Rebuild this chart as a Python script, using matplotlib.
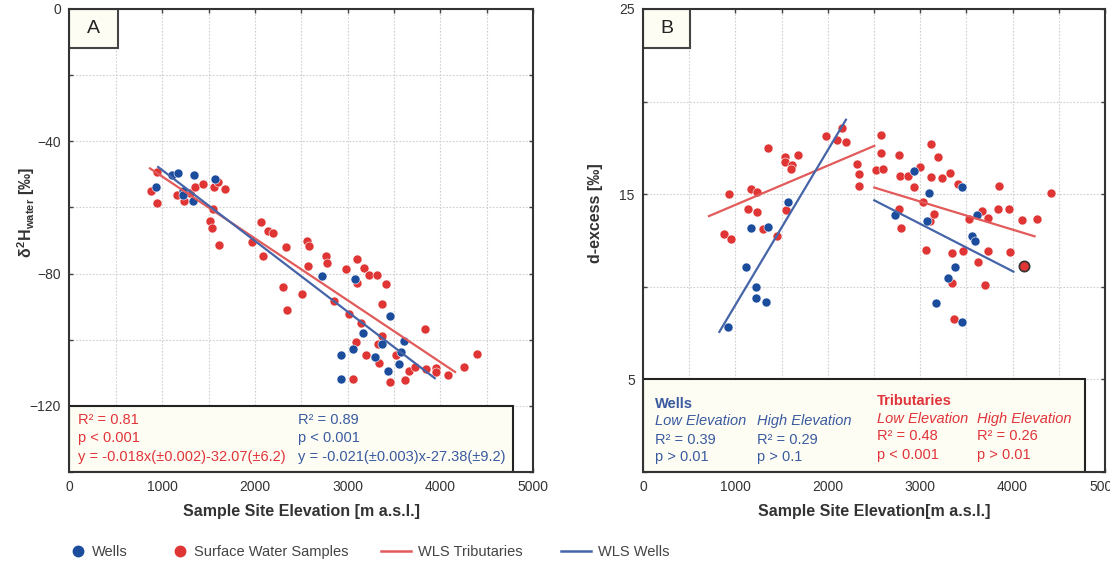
import matplotlib
matplotlib.use('Agg')
import matplotlib.pyplot as plt
import matplotlib.ticker as ticker
from matplotlib.patches import Rectangle
from matplotlib.lines import Line2D
import numpy as np

plt.rcParams['font.family'] = ['Liberation Sans', 'DejaVu Sans']
plt.rcParams['mathtext.fontset'] = 'custom'
plt.rcParams['mathtext.rm'] = 'Liberation Sans:bold'
plt.rcParams['mathtext.it'] = 'Liberation Sans:bold'
plt.rcParams['mathtext.bf'] = 'Liberation Sans:bold'

# panel A: d2H vs elevation
a_wells_x = [929, 1108, 1166, 1227, 1227, 1328, 1346, 1565, 2724, 3084, 3455, 2927, 2927,
             3060, 3161, 3293, 3376, 3437, 3606, 3581, 3552]
a_wells_y = [-53.8, -50.1, -49.6, -55.0, -56.2, -57.9, -50.1, -51.4, -80.6, -81.6, -92.8, -104.5,
             -111.9, -102.8, -97.9, -105.3, -101.2, -109.4, -100.4, -103.8, -107.4]
a_surf_x = [875, 946, 940, 1162, 1234, 1299, 1353, 1442, 1561, 1604, 1676, 1543, 1514, 1532, 1611,
            1974, 2064, 2136, 2196, 2082, 2340, 2566, 2584, 2570, 2771, 2782, 2988, 3106, 3174, 3232,
            3322, 2298, 2341, 2513, 2854, 3106, 3411, 3371, 3016, 3142, 3095, 3195, 3339, 3329, 3366,
            3060, 3455, 3527, 3617, 3664, 3725, 3843, 3832, 3958, 3950, 4083, 4255, 4396]
a_surf_y = [-54.9, -49.3, -58.7, -56.2, -58.0, -55.5, -53.8, -52.8, -53.9, -52.3, -54.3, -60.5, -64.0,
            -66.2, -71.4, -70.3, -64.4, -67.2, -67.7, -74.6, -72.0, -70.0, -71.6, -77.6, -74.6, -76.7,
            -78.7, -75.5, -78.3, -80.3, -80.3, -84.0, -91.1, -86.2, -88.2, -82.9, -83.0, -89.3, -92.3,
            -94.9, -100.7, -104.7, -107.1, -101.2, -98.9, -111.8, -112.9, -104.7, -112.2, -109.4,
            -108.1, -108.8, -96.6, -108.4, -109.6, -110.6, -108.1, -104.3]
# WLS fits: slope, intercept, x range
a_fit_trib = (-0.0187, -31.95, 868, 4159)
a_fit_wells = (-0.0214, -27.3, 957, 3940)

# panel B: d-excess vs elevation
b_wells_x = [1573, 1169, 1349, 1111, 2933, 3099, 3455, 3610, 2730, 3070, 3556, 3592, 3376, 3304,
             1223, 1223, 1331, 923, 3170, 3448]
b_wells_y = [14.6, 13.15, 13.24, 11.05, 16.25, 15.04, 15.4, 13.9, 13.86, 13.55, 12.77, 12.46, 11.05,
             10.5, 10.0, 9.42, 9.2, 7.83, 9.12, 8.11]
b_surf_x = [934, 880, 952, 1169, 1230, 1133, 1237, 1356, 1302, 1447, 1537, 1537, 1609, 1602, 1681,
            1544, 1980, 2096, 2150, 2197, 2312, 2341, 2341, 2518, 2575, 2575, 2594, 2770, 2781, 2865,
            2933, 2998, 3034, 3113, 3189, 3117, 3239, 3322, 3412, 2770, 2792, 3106, 3149, 3062, 3347,
            3459, 3531, 3629, 3672, 3730, 3737, 3853, 3845, 3964, 3971, 4098, 4267, 4415, 3347, 3368,
            3701]
b_surf_y = [15.0, 12.85, 12.57, 15.26, 15.13, 14.2, 14.04, 17.48, 13.13, 12.77, 17.03, 16.72, 16.58,
            16.34, 17.12, 14.17, 18.15, 17.93, 18.57, 17.84, 16.63, 16.09, 15.47, 16.3, 18.2, 17.2,
            16.38, 17.1, 16.0, 16.0, 15.4, 16.48, 14.57, 17.7, 16.99, 15.94, 15.89, 16.16, 15.54,
            14.22, 13.17, 13.55, 13.95, 11.99, 11.81, 11.96, 13.68, 11.33, 14.1, 13.74, 11.92, 15.45,
            14.18, 14.18, 11.86, 13.62, 13.68, 15.04, 10.23, 8.28, 10.09]
b_outlier = (4123, 11.13)
b_fit_trib_low = (0.002119, 12.307, 714, 2503)
b_fit_wells_low = (0.008358, 0.666, 826, 2196)
b_fit_trib_high = (-0.001517, 19.157, 2503, 4237)
b_fit_wells_high = (-0.002556, 21.068, 2503, 4009)

RED = '#e03535'
BLUE = '#1c4c9c'
RED_LINE = '#e25a5a'
BLUE_LINE = '#4565a8'
CREAM = '#fdfdf3'
TXT_RED = '#e0343a'
TXT_BLUE = '#3a5aa0'

fig = plt.figure(figsize=(11.1, 5.62), dpi=100)
axA = fig.add_axes([0.0626, 0.160, 0.4176, 0.824])
axB = fig.add_axes([0.5793, 0.160, 0.4162, 0.824])


def draw_fit(ax, fit, color):
    m, b, x0, x1 = fit
    xs = np.array([x0, x1])
    ax.plot(xs, m * xs + b, color=color, lw=1.6, zorder=4)


def style_axes(ax, ymin, ymax, ystep, ylabel_ok):
    ax.set_xlim(0, 5000)
    ax.set_ylim(ymin, ymax)
    ax.xaxis.set_major_locator(ticker.MultipleLocator(500))
    ax.yaxis.set_major_locator(ticker.MultipleLocator(ystep))
    ax.xaxis.set_major_formatter(ticker.FuncFormatter(
        lambda v, p: '{:.0f}'.format(v) if round(v) % 1000 == 0 else ''))
    ax.yaxis.set_major_formatter(ticker.FuncFormatter(
        lambda v, p: '{:.0f}'.format(v).replace('-', '\u2212') if ylabel_ok(v) else ''))
    ax.grid(True, ls=(0, (1.5, 1.5)), color='#cfcfcf', lw=0.8, zorder=0)
    ax.tick_params(direction='in', top=True, right=True, length=3, width=1,
                   color='#444444', labelcolor='#333333', labelsize=10, pad=6)
    for s in ax.spines.values():
        s.set_color('#333333')
        s.set_linewidth(1.5)
        s.set_zorder(6)


# ---- panel A ----
axA.scatter(a_surf_x, a_surf_y, s=42, c=RED, edgecolors='white', linewidths=0.4, zorder=3)
axA.scatter(a_wells_x, a_wells_y, s=42, c=BLUE, edgecolors='white', linewidths=0.4, zorder=3)
draw_fit(axA, a_fit_trib, RED_LINE)
draw_fit(axA, a_fit_wells, BLUE_LINE)
style_axes(axA, -140, 0, 20, lambda v: round(v) % 40 == 0 and v >= -120)
axA.add_patch(Rectangle((0, -140), 4780, 20, facecolor=CREAM, edgecolor='#222222', lw=1.5, zorder=5))
axA.add_patch(Rectangle((0, -11.9), 520, 11.9, facecolor=CREAM, edgecolor='#444444', lw=1.5, zorder=5))
axA.text(260, -6.0, 'A', fontsize=14, ha='center', va='center', color='#222222', zorder=6)
for i, t in enumerate(['R\u00b2 = 0.81', 'p < 0.001', 'y = -0.018x(\u00b10.002)-32.07(\u00b16.2)']):
    axA.text(90, -122.0 - i * 5.7, t, fontsize=10.5, color=TXT_RED, va='top', zorder=6)
for i, t in enumerate(['R\u00b2 = 0.89', 'p < 0.001', 'y = -0.021(\u00b10.003)x-27.38(\u00b19.2)']):
    axA.text(2460, -122.0 - i * 5.7, t, fontsize=10.5, color=TXT_BLUE, va='top', zorder=6)
axA.set_xlabel('Sample Site Elevation [m a.s.l.]', fontsize=11.5, fontweight='bold',
               color='#333333', labelpad=7)
axA.set_ylabel('$\\delta^2$H$_{water}$ [\u2030]', fontsize=11.5,
               fontweight='bold', color='#333333')
axA.yaxis.set_label_coords(-0.070, 0.56)

# ---- panel B ----
axB.scatter(b_surf_x, b_surf_y, s=42, c=RED, edgecolors='white', linewidths=0.4, zorder=3)
axB.scatter(b_wells_x, b_wells_y, s=42, c=BLUE, edgecolors='white', linewidths=0.4, zorder=3)
axB.scatter([b_outlier[0]], [b_outlier[1]], s=55, c=RED, edgecolors='#333333', linewidths=1.2, zorder=3)
draw_fit(axB, b_fit_trib_low, RED_LINE)
draw_fit(axB, b_fit_wells_low, BLUE_LINE)
draw_fit(axB, b_fit_trib_high, RED_LINE)
draw_fit(axB, b_fit_wells_high, BLUE_LINE)
style_axes(axB, 0, 25, 5, lambda v: round(v) % 10 == 5)
axB.add_patch(Rectangle((0, 0), 4780, 5, facecolor=CREAM, edgecolor='#222222', lw=1.5, zorder=5))
axB.add_patch(Rectangle((0, 22.9), 510, 2.1, facecolor=CREAM, edgecolor='#444444', lw=1.5, zorder=5))
axB.text(255, 23.95, 'B', fontsize=14, ha='center', va='center', color='#222222', zorder=6)

wells_cols = [(130, ['Low Elevation', 'R\u00b2 = 0.39', 'p > 0.01']),
              (1234, ['High Elevation', 'R\u00b2 = 0.29', 'p > 0.1'])]
trib_cols = [(2532, ['Low Elevation', 'R\u00b2 = 0.48', 'p < 0.001']),
             (3614, ['High Elevation', 'R\u00b2 = 0.26', 'p > 0.01'])]
wells_rows = [2.83, 1.83, 0.92]
trib_rows = [2.93, 2.01, 0.98]
axB.text(130, 3.75, 'Wells', fontsize=10.5, fontweight='bold', color=TXT_BLUE,
         va='center_baseline', zorder=6)
axB.text(2532, 3.91, 'Tributaries', fontsize=10.5, fontweight='bold', color=TXT_RED,
         va='center_baseline', zorder=6)
for x0, lines in wells_cols:
    for i, t in enumerate(lines):
        axB.text(x0, wells_rows[i], t, fontsize=10.5, color=TXT_BLUE, va='center_baseline',
                 style='italic' if i == 0 else 'normal', zorder=6)
for x0, lines in trib_cols:
    for i, t in enumerate(lines):
        axB.text(x0, trib_rows[i], t, fontsize=10.5, color=TXT_RED, va='center_baseline',
                 style='italic' if i == 0 else 'normal', zorder=6)
axB.set_xlabel('Sample Site Elevation[m a.s.l.]', fontsize=11.5, fontweight='bold',
               color='#333333', labelpad=7)
axB.set_ylabel('d-excess [\u2030]', fontsize=11.5, fontweight='bold', color='#333333')
axB.yaxis.set_label_coords(-0.087, 0.56)

# ---- shared legend, one entry each so the spacing can follow the original ----
entries = [
    (Line2D([], [], ls='none', marker='o', ms=7.5, color=BLUE), 'Wells', 1.0, 71),
    (Line2D([], [], ls='none', marker='o', ms=7.5, color=RED), 'Surface Water Samples', 1.0, 173),
    (Line2D([], [], color=RED_LINE, lw=1.8), 'WLS Tributaries', 2.05, 381),
    (Line2D([], [], color=BLUE_LINE, lw=1.8), 'WLS Wells', 2.05, 561),
]
for h, lab, hl, xpix in entries:
    fig.legend([h], [lab], loc='center left', bbox_to_anchor=(xpix / 1110, 1 - 552 / 562),
               frameon=False, fontsize=10.5, handlelength=hl, handletextpad=0.47,
               borderpad=0, borderaxespad=0, labelcolor='#444444')

fig.savefig('out.png', dpi=100)
